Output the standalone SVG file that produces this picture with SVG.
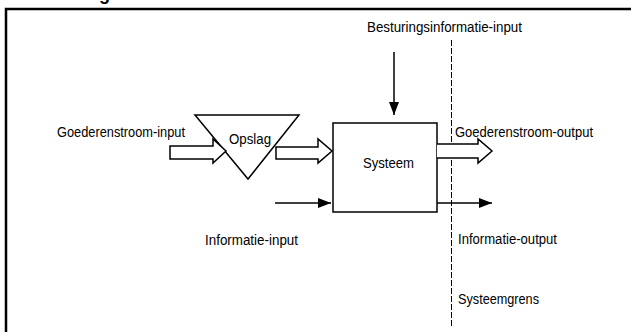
<svg xmlns="http://www.w3.org/2000/svg" width="631" height="332" viewBox="0 0 631 332">
<style>
  text { font-family: "Liberation Sans", Arial, sans-serif; font-size: 14px; fill: #000; }
  .shape { fill: #fff; stroke: #000; stroke-width: 1.5; }
  .line { fill: none; stroke: #000; stroke-width: 1.5; }
  .frame { fill: none; stroke: #000; stroke-width: 2.5; }
  .boundary { fill: none; stroke: #000; stroke-width: 1; stroke-dasharray: 6 2; }
</style>
<defs>
  <marker id="head" markerUnits="userSpaceOnUse" markerWidth="14" markerHeight="12" refX="13" refY="5" orient="auto">
    <path d="M0,0 L13,5 L0,10 Z" fill="#000"/>
  </marker>
</defs>
<rect width="631" height="332" fill="#fff"/>
<text x="99" y="0" style="font-size:18px;font-weight:bold">g</text>
<g id="frame">
  <path class="frame" d="M6,332 L6,9 L631,9"/>
</g>
<g id="systeemgrens">
  <line class="boundary" x1="451.5" y1="40" x2="451.5" y2="326"/>
  <text x="458" y="304" textLength="81" lengthAdjust="spacingAndGlyphs">Systeemgrens</text>
</g>
<g id="opslag">
  <polygon class="shape" points="195,115 299,115 248,179"/>
  <text x="229" y="144" textLength="42" lengthAdjust="spacingAndGlyphs">Opslag</text>
</g>
<g id="systeem">
  <rect class="shape" x="333" y="123" width="104" height="89"/>
  <text x="363" y="168" textLength="51" lengthAdjust="spacingAndGlyphs">Systeem</text>
</g>
<g id="connectors">
  <path class="shape" d="M170,146 L213,146 L213,139 L226,151 L213,163 L213,159 L170,159 Z"/>
  <path class="shape" d="M276,147 L318,147 L318,139 L332,151 L318,163 L318,159 L276,159 Z"/>
  <path class="shape" d="M437,144 L478,144 L478,139 L492,151 L478,163 L478,158 L437,158"/>
  <line class="line" x1="394" y1="52" x2="394" y2="115" marker-end="url(#head)"/>
  <line class="line" x1="275" y1="203" x2="331" y2="203" marker-end="url(#head)"/>
  <line class="line" x1="437" y1="203" x2="492" y2="203" marker-end="url(#head)"/>
</g>
<g id="labels">
  <text x="367" y="32" textLength="155" lengthAdjust="spacingAndGlyphs">Besturingsinformatie-input</text>
  <text x="57" y="137" textLength="128" lengthAdjust="spacingAndGlyphs">Goederenstroom-input</text>
  <text x="455" y="137" textLength="138" lengthAdjust="spacingAndGlyphs">Goederenstroom-output</text>
  <text x="205" y="245" textLength="93" lengthAdjust="spacingAndGlyphs">Informatie-input</text>
  <text x="458" y="244" textLength="99" lengthAdjust="spacingAndGlyphs">Informatie-output</text>
</g>
</svg>
